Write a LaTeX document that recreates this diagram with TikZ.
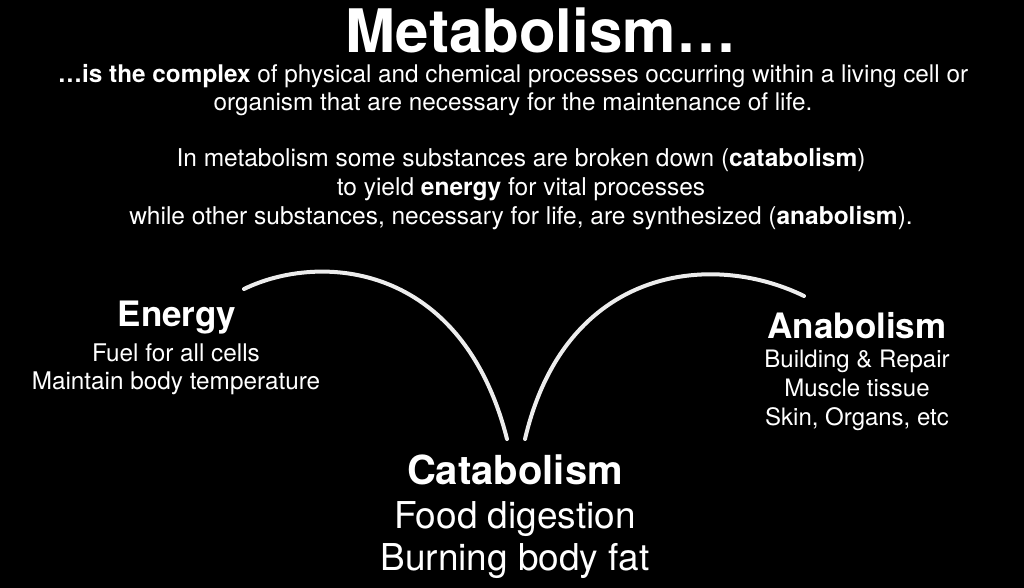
\documentclass[tikz,border=0pt]{standalone}
\usepackage{fontspec}
\setmainfont{TeX Gyre Heros}

\begin{document}
\begin{tikzpicture}[x=1pt,y=-1pt,line cap=round,line join=round,
  txt/.style={text=white,align=center,inner sep=0pt},
  chalk/.style={draw=white!93!black,line width=4pt}]
  \fill[black] (0,0) rectangle (1024,588);
  \useasboundingbox (0,0) rectangle (1024,588);
  % heading and definition
  \node[txt,font=\fontsize{60}{60}\selectfont\bfseries,text depth=0pt] (title) at (541,30) {Metabolism…};
  \node[txt,font=\fontsize{24.3}{28}\selectfont] (def) at (513,90)
    {\textbf{…is the complex} of physical and chemical processes occurring within a living cell or\\
     organism that are necessary for the maintenance of life.};
  \node[txt,font=\fontsize{24.5}{29}\selectfont] (expl) at (521,189)
    {In metabolism some substances are broken down (\textbf{catabolism})\\
     to yield \textbf{energy} for vital processes\\
     while other substances, necessary for life, are synthesized (\textbf{anabolism}).};
  % the three parts
  \node[txt,font=\fontsize{35}{35}\selectfont\bfseries] (energy) at (177,318) {Energy};
  \node[txt,font=\fontsize{24.3}{28}\selectfont] (energytxt) at (176,369)
    {Fuel for all cells\\Maintain body temperature};
  \node[txt,font=\fontsize{35}{35}\selectfont\bfseries] (anabol) at (857,326) {Anabolism};
  \node[txt,font=\fontsize{24}{29}\selectfont] (anaboltxt) at (857,390)
    {Building \& Repair\\Muscle tissue\\Skin, Organs, etc};
  \node[txt,font=\fontsize{40}{40}\selectfont\bfseries] (catabol) at (515,470) {Catabolism};
  \node[txt,font=\fontsize{37}{42}\selectfont] (catabotxt) at (515,540)
    {Food digestion\\Burning body fat};
  % chalk arcs
  \coordinate (l1) at (244,289);
  \coordinate (l2) at (507,439);
  \coordinate (r1) at (525,439);
  \coordinate (r2) at (804,296);
  \draw[chalk] (l1) .. controls (320,252) and (462,262) .. (l2);
  \draw[chalk] (r1) .. controls (565,268) and (710,250) .. (r2);
\end{tikzpicture}
\end{document}
